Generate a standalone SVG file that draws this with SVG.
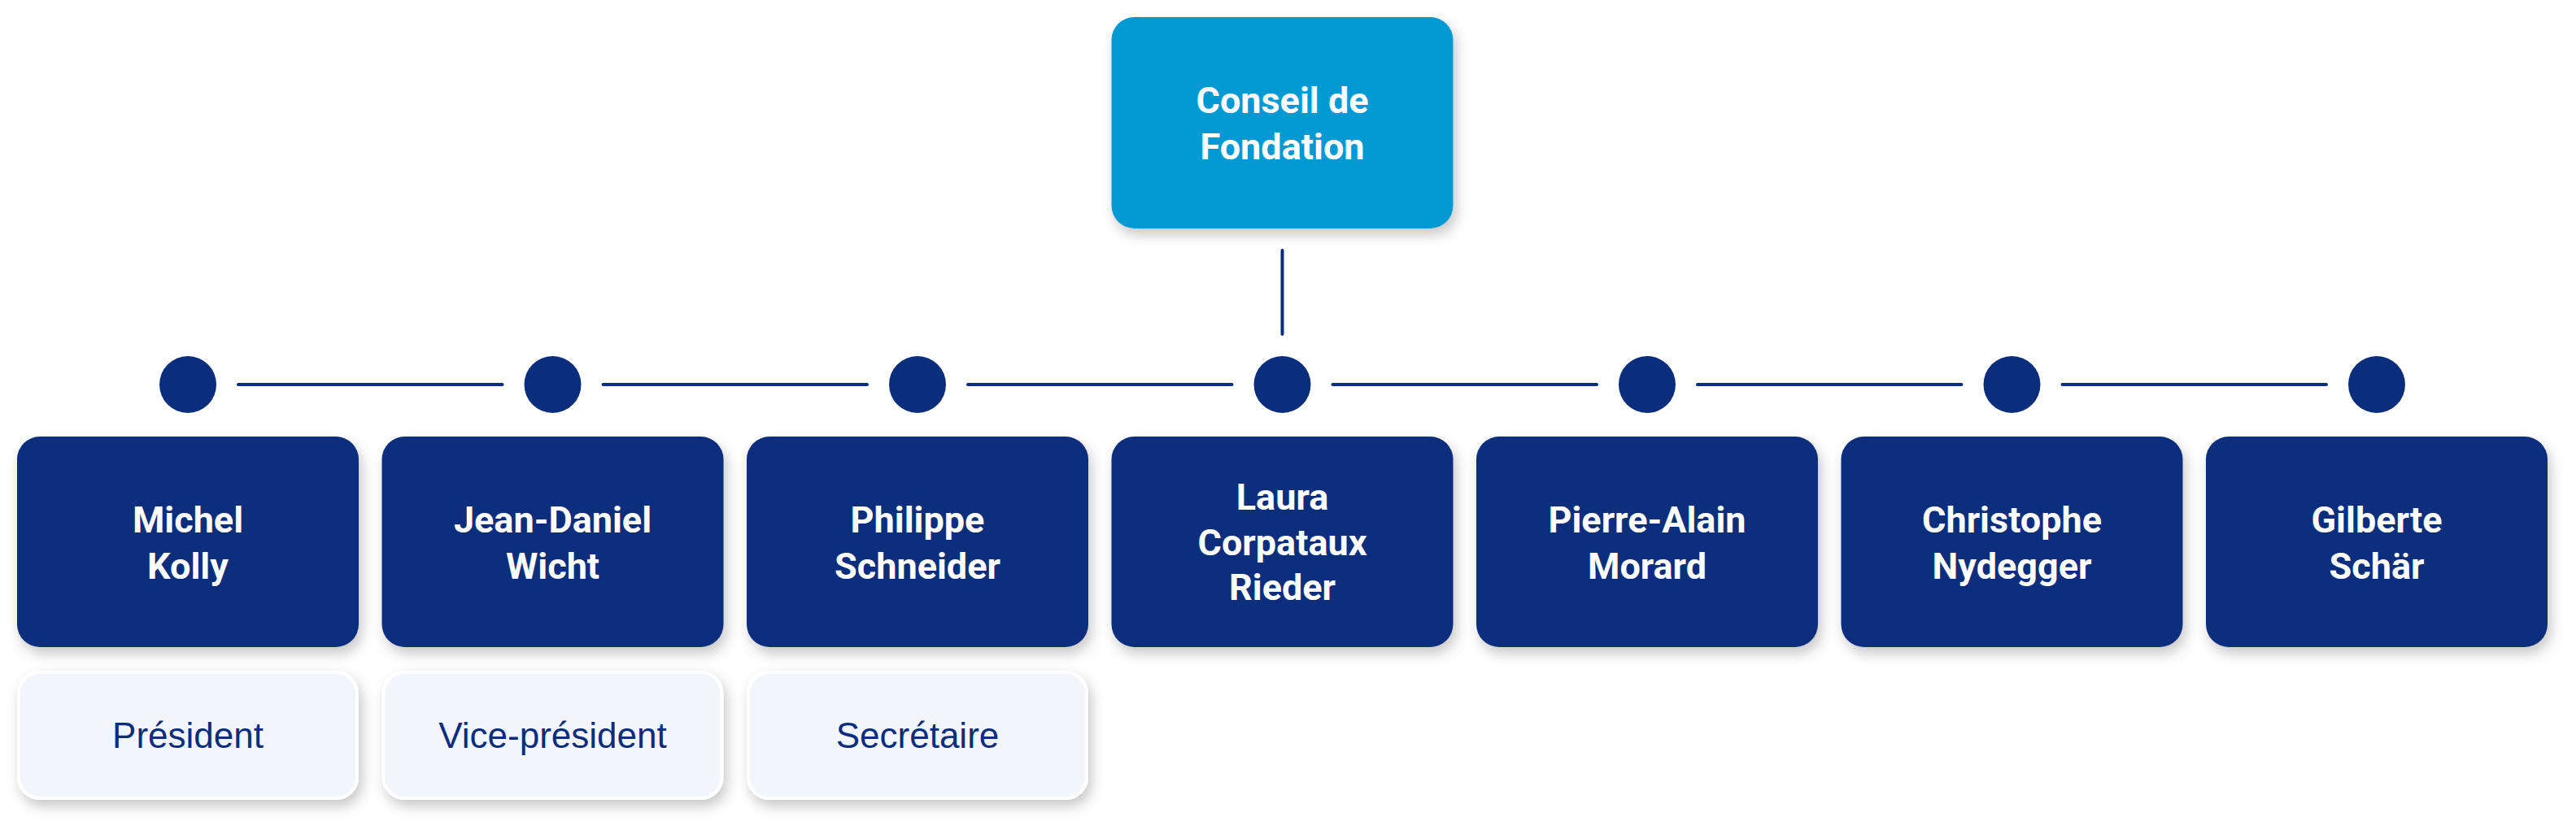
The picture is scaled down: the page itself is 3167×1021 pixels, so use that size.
<svg xmlns="http://www.w3.org/2000/svg" width="3167" height="1021" viewBox="0 0 3167 1021">
<defs>
<filter id="sh" x="-10%" y="-10%" width="125%" height="135%">
<feDropShadow dx="4" dy="8" stdDeviation="8" flood-color="#000" flood-opacity="0.22"/>
</filter>
<style>
.top{fill:#0299d3}
.nb{fill:#0a2d7c}
.rb{fill:#f2f5fc;stroke:#ffffff;stroke-width:4}
.nt{font-family:Roboto,"Open Sans",sans-serif;font-weight:bold;font-size:45px;fill:#ffffff;text-anchor:middle}
.rt{font-family:"Liberation Sans",Arial,sans-serif;font-size:44px;fill:#0a2d7c;text-anchor:middle}
.ln{stroke:#0a2d7c;stroke-width:4;stroke-linecap:round;fill:none}
.dot{fill:#0a2d7c}
</style>
</defs>
<rect width="3167" height="1021" fill="#ffffff"/>
<g id="connectors">
<line class="ln" x1="1576.5" y1="308" x2="1576.5" y2="411"/>
<line class="ln" x1="293" y1="473" x2="617.5" y2="473"/>
<line class="ln" x1="741.5" y1="473" x2="1066" y2="473"/>
<line class="ln" x1="1190" y1="473" x2="1514.5" y2="473"/>
<line class="ln" x1="1638.5" y1="473" x2="1963" y2="473"/>
<line class="ln" x1="2087" y1="473" x2="2411.5" y2="473"/>
<line class="ln" x1="2535.5" y1="473" x2="2860" y2="473"/>
<circle class="dot" cx="231" cy="473" r="35"/>
<circle class="dot" cx="679.5" cy="473" r="35"/>
<circle class="dot" cx="1128" cy="473" r="35"/>
<circle class="dot" cx="1576.5" cy="473" r="35"/>
<circle class="dot" cx="2025" cy="473" r="35"/>
<circle class="dot" cx="2473.5" cy="473" r="35"/>
<circle class="dot" cx="2922" cy="473" r="35"/>
</g>
<g id="conseil">
<rect class="top" x="1366.5" y="21" width="420" height="260" rx="28" filter="url(#sh)"/>
<text class="nt" x="1576.5" y="139">Conseil de</text>
<text class="nt" x="1576.5" y="196">Fondation</text>
</g>
<g id="kolly">
<rect class="nb" x="21" y="537" width="420" height="259" rx="28" filter="url(#sh)"/>
<text class="nt" x="231" y="655">Michel</text>
<text class="nt" x="231" y="712">Kolly</text>
</g>
<g id="wicht">
<rect class="nb" x="469.5" y="537" width="420" height="259" rx="28" filter="url(#sh)"/>
<text class="nt" x="679.5" y="655">Jean-Daniel</text>
<text class="nt" x="679.5" y="712">Wicht</text>
</g>
<g id="schneider">
<rect class="nb" x="918" y="537" width="420" height="259" rx="28" filter="url(#sh)"/>
<text class="nt" x="1128" y="655">Philippe</text>
<text class="nt" x="1128" y="712">Schneider</text>
</g>
<g id="rieder">
<rect class="nb" x="1366.5" y="537" width="420" height="259" rx="28" filter="url(#sh)"/>
<text class="nt" x="1576.5" y="627">Laura</text>
<text class="nt" x="1576.5" y="683">Corpataux</text>
<text class="nt" x="1576.5" y="738">Rieder</text>
</g>
<g id="morard">
<rect class="nb" x="1815" y="537" width="420" height="259" rx="28" filter="url(#sh)"/>
<text class="nt" x="2025" y="655">Pierre-Alain</text>
<text class="nt" x="2025" y="712">Morard</text>
</g>
<g id="nydegger">
<rect class="nb" x="2263.5" y="537" width="420" height="259" rx="28" filter="url(#sh)"/>
<text class="nt" x="2473.5" y="655">Christophe</text>
<text class="nt" x="2473.5" y="712">Nydegger</text>
</g>
<g id="schaer">
<rect class="nb" x="2712" y="537" width="420" height="259" rx="28" filter="url(#sh)"/>
<text class="nt" x="2922" y="655">Gilberte</text>
<text class="nt" x="2922" y="712">Schär</text>
</g>
<g id="role-president">
<rect class="rb" x="23" y="827" width="416" height="155" rx="26" filter="url(#sh)"/>
<text class="rt" x="231" y="920">Président</text>
</g>
<g id="role-vice">
<rect class="rb" x="471.5" y="827" width="416" height="155" rx="26" filter="url(#sh)"/>
<text class="rt" x="679.5" y="920">Vice-président</text>
</g>
<g id="role-secretaire">
<rect class="rb" x="920" y="827" width="416" height="155" rx="26" filter="url(#sh)"/>
<text class="rt" x="1128" y="920">Secrétaire</text>
</g>
</svg>
